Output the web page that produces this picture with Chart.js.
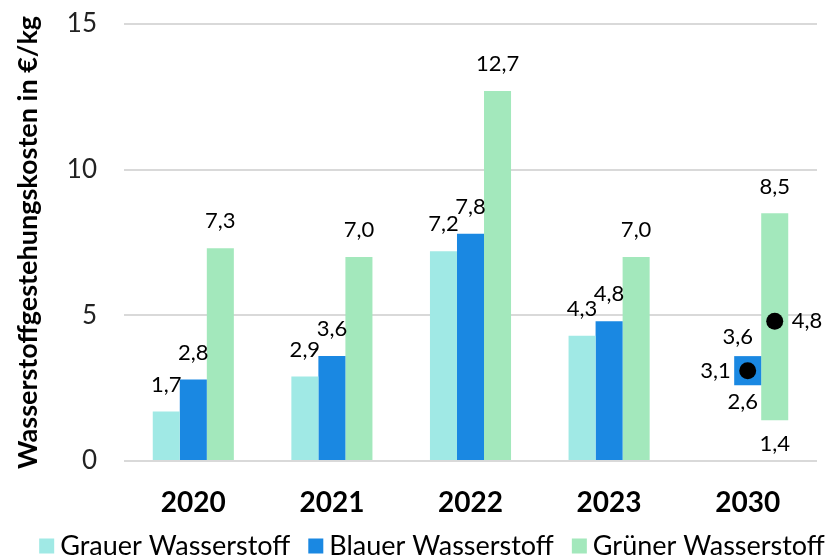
<!DOCTYPE html>
<html>
<head>
<meta charset="utf-8">
<script src="https://cdn.jsdelivr.net/npm/chart.js@4/dist/chart.umd.min.js"></script>
<style>
  html, body { margin: 0; padding: 0; background: #fff; }
  #wrap { width: 831px; height: 559px; }
</style>
</head>
<body>
<div id="wrap"><canvas id="kostenChart" width="831" height="559"></canvas></div>
<script>
// Daten
const categories = ["2020", "2021", "2022", "2023", "2030"];
const grauer = [1.7, 2.9, 7.2, 4.3, null];
const blauer = [2.8, 3.6, 7.8, 4.8, [2.6, 3.6]];
const gruener = [7.3, 7.0, 12.7, 7.0, [1.4, 8.5]];
// Mittelwerte fuer die Spanne 2030 (schwarze Punkte)
const blauerMittel = [null, null, null, null, 3.1];
const gruenerMittel = [null, null, null, null, 4.8];
const yTicks = [0, 5, 10, 15];

const colGrau = "#a0e9e5";
const colBlau = "#1a88e2";
const colGruen = "#a3e8bc";
const FONT = "Lato, 'Open Sans', sans-serif";

function fmt(v) {
    return v.toFixed(1).replace(".", ",");
}

// zeichnet Wertelabels und die Punkte fuer 2030
const labelPlugin = {
    id: "wertLabels",
    afterDatasetsDraw(chart) {
        const ctx = chart.ctx;
        const yScale = chart.scales.y;
        ctx.save();
        ctx.font = "22px " + FONT;
        ctx.fillStyle = "#000";
        ctx.textBaseline = "middle";
        chart.data.datasets.forEach(function (ds, i) {
            const meta = chart.getDatasetMeta(i);
            meta.data.forEach(function (bar, j) {
                const raw = ds.data[j];
                if (raw === null) return;
                const shift = ds.labelShift || 0;
                ctx.textAlign = "center";
                if (Array.isArray(raw)) {
                    const top = yScale.getPixelForValue(raw[1]);
                    const bottom = yScale.getPixelForValue(raw[0]);
                    ctx.fillText(fmt(raw[1]), bar.x + shift, top - (ds.rangeGap || 26));
                    ctx.fillText(fmt(raw[0]), bar.x + shift / 2, bottom + (ds.rangeGap || 26) - 2);
                } else {
                    ctx.fillText(fmt(raw), bar.x, yScale.getPixelForValue(raw) - 27);
                }
                const m = ds.mittel ? ds.mittel[j] : null;
                if (m !== null && m !== undefined) {
                    const py = yScale.getPixelForValue(m);
                    ctx.beginPath();
                    ctx.arc(bar.x, py, 8.5, 0, Math.PI * 2);
                    ctx.fillStyle = "#000";
                    ctx.fill();
                    if (ds.mittelSeite === "links") {
                        ctx.textAlign = "right";
                        ctx.fillText(fmt(m), bar.x - 17, py);
                    } else {
                        ctx.textAlign = "left";
                        ctx.fillText(fmt(m), bar.x + 17, py);
                    }
                }
            });
        });
        ctx.restore();
    }
};

// eigene Legende unten (Kaestchen dicht am Text wie im Original)
const legendPlugin = {
    id: "eigeneLegende",
    afterDraw(chart) {
        const ctx = chart.ctx;
        const box = 15, gap = 6, spacing = 18;
        ctx.save();
        ctx.font = "27px " + FONT;
        ctx.textBaseline = "middle";
        ctx.textAlign = "left";
        const items = chart.data.datasets.map(ds => ({
            text: ds.label,
            color: ds.backgroundColor,
            w: box + gap + ctx.measureText(ds.label).width
        }));
        const total = items.reduce((s, it) => s + it.w, 0) + spacing * (items.length - 1);
        let x = 432 - total / 2;
        const y = 546;
        items.forEach(it => {
            ctx.fillStyle = it.color;
            ctx.fillRect(x, y - box / 2, box, box);
            ctx.fillStyle = "#000";
            ctx.fillText(it.text, x + box + gap, y);
            x += it.w + spacing;
        });
        ctx.restore();
    }
};

new Chart(document.getElementById("kostenChart"), {
    type: "bar",
    data: {
        labels: categories,
        datasets: [
            {
                label: "Grauer Wasserstoff",
                data: grauer,
                backgroundColor: colGrau
            },
            {
                label: "Blauer Wasserstoff",
                data: blauer,
                backgroundColor: colBlau,
                mittel: blauerMittel,
                mittelSeite: "links",
                labelShift: -10,
                rangeGap: 19
            },
            {
                label: "Grüner Wasserstoff",
                data: gruener,
                backgroundColor: colGruen,
                mittel: gruenerMittel,
                mittelSeite: "rechts"
            }
        ]
    },
    options: {
        responsive: false,
        animation: false,
        layout: { padding: { top: 24, right: 14, left: 0, bottom: 40 } },
        datasets: {
            bar: { categoryPercentage: 0.585, barPercentage: 1.0, borderWidth: 0, grouped: true }
        },
        scales: {
            x: {
                grid: { display: false, drawTicks: false },
                border: { display: false },
                ticks: {
                    color: "#000",
                    font: { family: FONT, size: 28, weight: "bold" },
                    padding: 25
                },
                afterFit(s) { s.height = 58; s.paddingLeft = 0; s.paddingRight = 0; }
            },
            y: {
                min: 0,
                max: 15,
                afterBuildTicks(s) { s.ticks = yTicks.map(v => ({ value: v })); },
                grid: { color: "#d9d9d9", lineWidth: 2, drawTicks: false },
                border: { display: false },
                ticks: {
                    color: "#222",
                    font: { family: FONT, size: 26 },
                    padding: 27
                },
                title: {
                    display: true,
                    text: "Wasserstoffgestehungskosten in €/kg",
                    color: "#000",
                    font: { family: FONT, size: 27, weight: "bold" },
                    padding: { top: 12, bottom: 0 }
                },
                afterFit(s) { s.width = 124; s.paddingTop = 0; s.paddingBottom = 0; }
            }
        },
        plugins: {
            legend: { display: false },
            tooltip: { enabled: false }
        }
    },
    plugins: [labelPlugin, legendPlugin]
});
</script>
</body>
</html>
